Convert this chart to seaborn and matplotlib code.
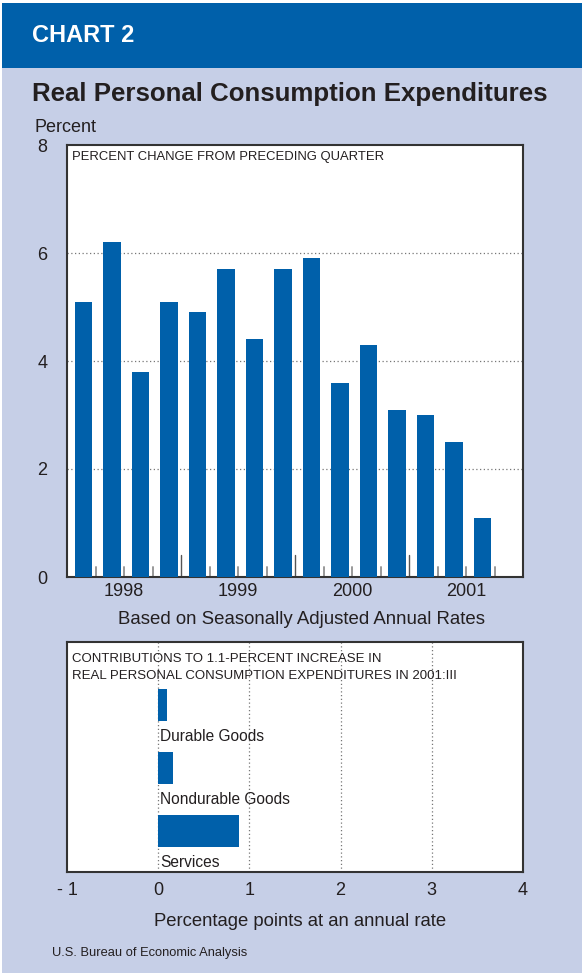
import matplotlib
matplotlib.use("Agg")
import matplotlib.pyplot as plt
from matplotlib.patches import Rectangle
import seaborn as sns
import pandas as pd

# ---- data ----
quarters = ["1998:I", "1998:II", "1998:III", "1998:IV",
            "1999:I", "1999:II", "1999:III", "1999:IV",
            "2000:I", "2000:II", "2000:III", "2000:IV",
            "2001:I", "2001:II", "2001:III"]
pct_change = [5.1, 6.2, 3.8, 5.1, 4.9, 5.7, 4.4, 5.7, 5.9, 3.6, 4.3, 3.1, 3.0, 2.5, 1.1]
year_labels = ["1998", "1999", "2000", "2001"]
y_ticks_top = [0, 2, 4, 6, 8]

components = ["Durable Goods", "Nondurable Goods", "Services"]
contributions = [0.10, 0.16, 0.89]
x_ticks_bottom = [-1, 0, 1, 2, 3, 4]
x_ticklabels_bottom = ["- 1", "0", "1", "2", "3", "4"]

BG = "#C6CFE7"
BLUE = "#0060AA"
DARK = "#231F20"
FONT = ["Liberation Sans", "DejaVu Sans"]

sns.set_style("white")
plt.rcParams["font.family"] = FONT

W, H = 582, 973
fig = plt.figure(figsize=(W / 100, H / 100), dpi=100)
fig.patch.set_facecolor(BG)

def fx(px):
    return px / W

def fy(py):
    return 1 - py / H

# header band
fig.patches.append(Rectangle((fx(2), fy(68)), fx(580), (68 - 3) / H,
                             transform=fig.transFigure, facecolor=BLUE,
                             edgecolor="none", zorder=0))
fig.patches.append(Rectangle((0, fy(3)), 1, 3 / H, transform=fig.transFigure,
                             facecolor="white", edgecolor="none", zorder=0))
fig.patches.append(Rectangle((0, fy(973)), fx(2), 1, transform=fig.transFigure,
                             facecolor="white", edgecolor="none", zorder=0))

fig.text(fx(32), fy(36), "CHART 2", color="white", fontsize=17,
         fontweight="bold", va="center", ha="left")
fig.text(fx(32), fy(94), "Real Personal Consumption Expenditures", color=DARK,
         fontsize=18.6, fontweight="bold", va="center", ha="left")
fig.text(fx(34), fy(127), "Percent", color=DARK, fontsize=13, va="center", ha="left")

# ---- top chart ----
ax1 = fig.add_axes([fx(67), fy(577), fx(456), 432 / H])
df1 = pd.DataFrame({"q": list(range(len(quarters))), "v": pct_change})
sns.barplot(data=df1, x="q", y="v", ax=ax1, color=BLUE, width=0.6,
            saturation=1, native_scale=True, zorder=3, linewidth=0,
            edgecolor=BLUE)
for p in ax1.patches:
    p.set_x(p.get_x() + 0.08)
ax1.set_xlim(-0.5, 15.5)
ax1.set_ylim(0, 8)
ax1.set_facecolor("white")
ax1.set_yticks(y_ticks_top)
ax1.set_yticklabels([str(t) for t in y_ticks_top])
ax1.tick_params(axis="y", length=0, labelsize=13, labelcolor=DARK, pad=14)
for yv in [2, 4, 6]:
    ax1.axhline(yv, color="#777777", lw=0.9, ls=(0, (1, 2)), zorder=1)
year_pos = [1.5, 5.5, 9.5, 13.5]
ax1.set_xticks(year_pos)
ax1.set_xticklabels(year_labels)
ax1.tick_params(axis="x", length=0, labelsize=13, labelcolor=DARK, pad=4)
for k in range(15):
    b = k + 0.5
    if b in (3.5, 7.5, 11.5):
        ax1.plot([b, b], [0, 0.4], color="#555555", lw=1.0, zorder=2)
    else:
        ax1.plot([b, b], [0, 0.19], color="#999999", lw=1.4, zorder=2)
ax1.set_xlabel("")
ax1.set_ylabel("")
for s in ax1.spines.values():
    s.set_color("#333333")
    s.set_linewidth(1.5)
    s.set_visible(True)
ax1.text(0.012, 0.986, "PERCENT CHANGE FROM PRECEDING QUARTER",
         transform=ax1.transAxes, fontsize=9.4, color=DARK, va="top", ha="left")

fig.text(fx(302), fy(620), "Based on Seasonally Adjusted Annual Rates",
         color=DARK, fontsize=13.4, ha="center", va="center")

# ---- bottom chart ----
ax2 = fig.add_axes([fx(67), fy(872), fx(456), 230 / H])
df2 = pd.DataFrame({"c": components, "v": contributions})
sns.barplot(data=df2, x="v", y="c", orient="h", ax=ax2, color=BLUE,
            width=0.51, saturation=1, zorder=3, linewidth=0, edgecolor=BLUE)
ax2.set_xlim(-1, 4)
ax2.set_ylim(2.65, -1)
ax2.set_facecolor("white")
ax2.set_yticks([])
ax2.set_xticks(x_ticks_bottom)
ax2.set_xticklabels(x_ticklabels_bottom)
ax2.tick_params(axis="x", length=0, labelsize=13, labelcolor=DARK, pad=7)
for xv in [0, 1, 2, 3]:
    ax2.axvline(xv, color="#777777", lw=0.9, ls=(0, (1, 2)), zorder=1)
ax2.set_xlabel("")
ax2.set_ylabel("")
for s in ax2.spines.values():
    s.set_color("#333333")
    s.set_linewidth(1.5)
    s.set_visible(True)
ax2.text(0.012, 0.95, "CONTRIBUTIONS TO 1.1-PERCENT INCREASE IN\nREAL PERSONAL CONSUMPTION EXPENDITURES IN 2001:III",
         transform=ax2.transAxes, fontsize=9.5, color=DARK, va="top", ha="left",
         linespacing=1.5)
for i, name in enumerate(components):
    ax2.text(0.02, i + 0.5, name, fontsize=11.2, color=DARK, ha="left", va="center")

fig.text(fx(300), fy(922), "Percentage points at an annual rate",
         color=DARK, fontsize=13.3, ha="center", va="center")
fig.text(fx(52), fy(953), "U.S. Bureau of Economic Analysis",
         color=DARK, fontsize=9.3, ha="left", va="center")

fig.savefig("out.png", dpi=100, facecolor=BG)
